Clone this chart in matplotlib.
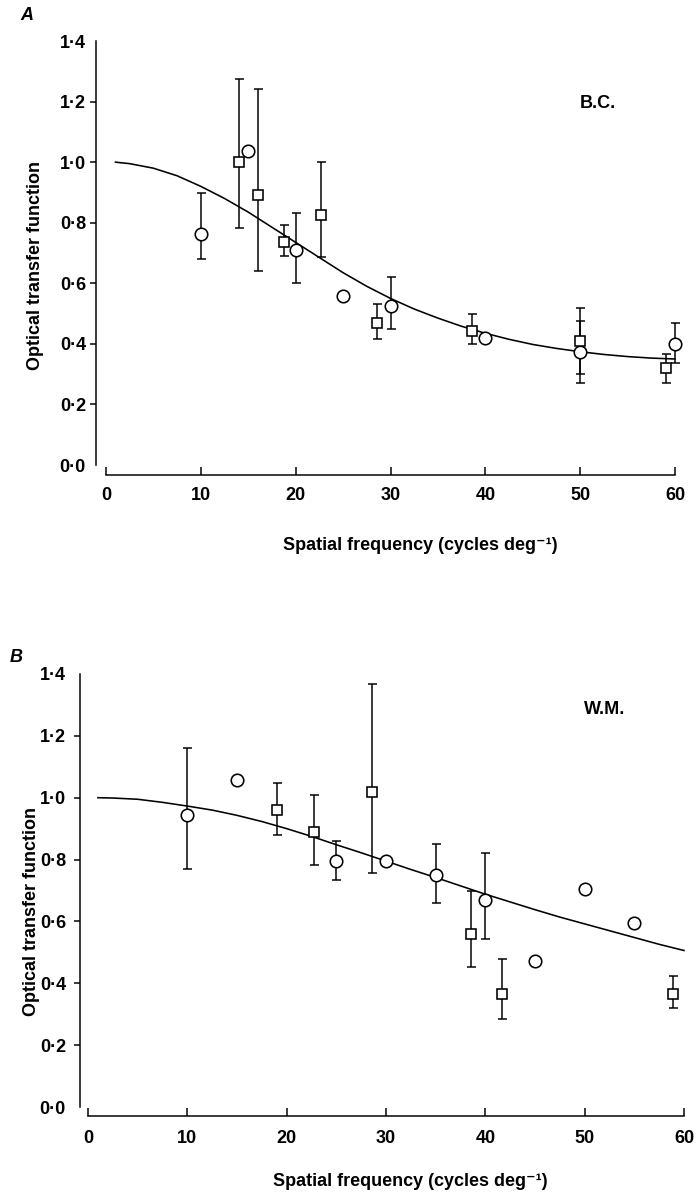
import matplotlib
matplotlib.use("Agg")
import matplotlib.pyplot as plt
import numpy as np

# ---------------- data ----------------
# Panel A (B.C.)
a_circ_x = [10, 15, 20, 25, 30, 40, 50, 60]
a_circ_y = [0.764, 1.038, 0.709, 0.559, 0.526, 0.419, 0.373, 0.398]
a_circ_lo = [0.679, None, 0.600, None, 0.449, None, 0.271, 0.338]
a_circ_hi = [0.897, None, 0.832, None, 0.620, None, 0.474, 0.469]

a_sq_x = [14, 16, 18.8, 22.7, 28.6, 38.6, 50, 59]
a_sq_y = [1.000, 0.891, 0.737, 0.824, 0.469, 0.444, 0.411, 0.319]
a_sq_lo = [0.783, 0.640, 0.690, 0.687, 0.416, 0.400, 0.300, 0.271]
a_sq_hi = [1.276, 1.240, 0.793, 1.000, 0.532, 0.497, 0.518, 0.365]

a_fit_x = [1, 2.5, 5, 7.5, 10, 12.5, 15, 17.5, 20, 22.5, 25, 27.5, 30, 32.5,
           35, 37.5, 40, 42.5, 45, 47.5, 50, 52.5, 55, 57.5, 60]
a_fit_y = [1.000, 0.995, 0.980, 0.955, 0.920, 0.880, 0.835, 0.785, 0.735,
           0.685, 0.635, 0.590, 0.550, 0.515, 0.485, 0.458, 0.435, 0.415,
           0.398, 0.385, 0.374, 0.365, 0.358, 0.353, 0.350]

# Panel B (W.M.)
b_circ_x = [10, 15, 25, 30, 35, 40, 45, 50, 55]
b_circ_y = [0.943, 1.057, 0.794, 0.794, 0.751, 0.669, 0.471, 0.706, 0.595]
b_circ_lo = [0.768, None, 0.733, None, 0.661, 0.543, None, None, None]
b_circ_hi = [1.160, None, 0.859, None, 0.850, 0.820, None, None, None]

b_sq_x = [19, 22.8, 28.6, 38.6, 41.7, 58.9]
b_sq_y = [0.960, 0.888, 1.017, 0.560, 0.366, 0.366]
b_sq_lo = [0.881, 0.784, 0.757, 0.452, 0.283, 0.319]
b_sq_hi = [1.047, 1.010, 1.368, 0.700, 0.479, 0.424]

b_fit_x = [1, 2.5, 5, 7.5, 10, 12.5, 15, 17.5, 20, 22.5, 25, 27.5, 30, 32.5,
           35, 37.5, 40, 42.5, 45, 47.5, 50, 52.5, 55, 57.5, 60]
b_fit_y = [1.000, 0.999, 0.995, 0.985, 0.973, 0.960, 0.943, 0.923, 0.900,
           0.875, 0.848, 0.822, 0.795, 0.768, 0.742, 0.715, 0.688, 0.663,
           0.638, 0.614, 0.592, 0.570, 0.548, 0.526, 0.506]

y_ticks = [0.0, 0.2, 0.4, 0.6, 0.8, 1.0, 1.2, 1.4]
y_tick_labels = ["0·0", "0·2", "0·4", "0·6", "0·8", "1·0", "1·2", "1·4"]
x_ticks = [0, 10, 20, 30, 40, 50, 60]
x_tick_labels = ["0", "10", "20", "30", "40", "50", "60"]

# ---------------- style ----------------
FONT = ["Liberation Sans", "DejaVu Sans"]
plt.rcParams['font.family'] = FONT

W, H = 697, 1194
DPI = 100
fig = plt.figure(figsize=(W / DPI, H / DPI), dpi=DPI)
PT = 72.0 / DPI  # points per pixel


def fx(px):
    return px / W


def fy(py):
    return 1 - py / H


def err(vals, lo, hi):
    xs, ys, el, eh = [], [], [], []
    for i, (l, h) in enumerate(zip(lo, hi)):
        if l is None:
            continue
        xs.append(vals[0][i]); ys.append(vals[1][i])
        el.append(vals[1][i] - l); eh.append(h - vals[1][i])
    return xs, ys, [el, eh]


def panel(rect, cx, cy, clo, chi, sx, sy, slo, shi, fitx, fity,
          yspine_off, xspine_off, ylab_pad, xlab_pad):
    ax = fig.add_axes(rect)
    ax.set_xlim(0, 60)
    ax.set_ylim(0, 1.4)
    for s in ["top", "right"]:
        ax.spines[s].set_visible(False)
    ax.spines["left"].set_position(("outward", yspine_off * PT))
    ax.spines["bottom"].set_position(("outward", xspine_off * PT))
    for s in ["left", "bottom"]:
        ax.spines[s].set_linewidth(1.5 * PT)

    # fit curve
    ax.plot(fitx, fity, color="black", lw=1.6 * PT, clip_on=False, zorder=2)

    ekw = dict(fmt="none", ecolor="black", elinewidth=1.5 * PT,
               capsize=4.5 * PT, capthick=1.5 * PT, zorder=3)
    for (px, py, plo, phi) in [(cx, cy, clo, chi), (sx, sy, slo, shi)]:
        xs, ys, e = err((px, py), plo, phi)
        eb = ax.errorbar(xs, ys, yerr=e, **ekw)
        for art in eb.get_children():
            art.set_clip_on(False)

    ax.plot(cx, cy, linestyle="none", marker="o", markersize=12.5 * PT,
            markerfacecolor="white", markeredgecolor="black",
            markeredgewidth=1.6 * PT, clip_on=False, zorder=4)
    ax.plot(sx, sy, linestyle="none", marker="s", markersize=10.5 * PT,
            markerfacecolor="white", markeredgecolor="black",
            markeredgewidth=1.6 * PT, clip_on=False, zorder=4)

    ax.set_xticks(x_ticks)
    ax.set_xticklabels(x_tick_labels, fontfamily=FONT, fontweight="bold",
                       fontsize=13)
    ax.set_yticks(y_ticks)
    ax.set_yticklabels(y_tick_labels, fontfamily=FONT, fontweight="bold",
                       fontsize=13)
    ax.tick_params(axis="x", direction="in", length=8 * PT, width=1.5 * PT,
                   pad=xlab_pad * PT)
    ax.tick_params(axis="y", direction="out", length=6 * PT, width=1.5 * PT,
                   pad=ylab_pad * PT)
    yt = ax.yaxis.get_major_ticks()
    yt[0].tick1line.set_visible(False)
    yt[-1].tick1line.set_visible(False)
    ax.set_yticks([0.0, 1.4], minor=True)
    ax.tick_params(axis="y", which="minor", direction="in", length=8 * PT,
                   width=1.5 * PT, labelleft=False)
    return ax


# Panel A
x0, x60, y0, y14 = 106, 675, 465, 41
axA = panel([fx(x0), fy(y0), fx(x60) - fx(x0), fy(y14) - fy(y0)],
            a_circ_x, a_circ_y, a_circ_lo, a_circ_hi,
            a_sq_x, a_sq_y, a_sq_lo, a_sq_hi, a_fit_x, a_fit_y,
            yspine_off=10, xspine_off=10, ylab_pad=4, xlab_pad=12)

# Panel B
x0, x60, y0, y14 = 88, 684, 1107, 674
axB = panel([fx(x0), fy(y0), fx(x60) - fx(x0), fy(y14) - fy(y0)],
            b_circ_x, b_circ_y, b_circ_lo, b_circ_hi,
            b_sq_x, b_sq_y, b_sq_lo, b_sq_hi, b_fit_x, b_fit_y,
            yspine_off=8, xspine_off=9, ylab_pad=8, xlab_pad=14)

lab = dict(fontfamily=FONT, fontweight="bold", fontsize=13, color="black")

fig.text(fx(27), fy(15), "A", ha="center", va="center", style="italic", **lab)
fig.text(fx(16), fy(658), "B", ha="center", va="center", style="italic", **lab)

fig.text(fx(36), fy(265), "Optical transfer function", rotation=90,
         ha="center", va="center", **lab)
fig.text(fx(32), fy(912), "Optical transfer function", rotation=90,
         ha="center", va="center", **lab)

fig.text(fx(420), fy(545), "Spatial frequency (cycles deg⁻¹)",
         ha="center", va="center", **lab)
fig.text(fx(410), fy(1182), "Spatial frequency (cycles deg⁻¹)",
         ha="center", va="center", **lab)

fig.text(fx(598), fy(103), "B.C.", ha="center", va="center", **lab)
fig.text(fx(605), fy(709), "W.M.", ha="center", va="center", **lab)

fig.savefig("out.png", dpi=DPI, facecolor="white")
